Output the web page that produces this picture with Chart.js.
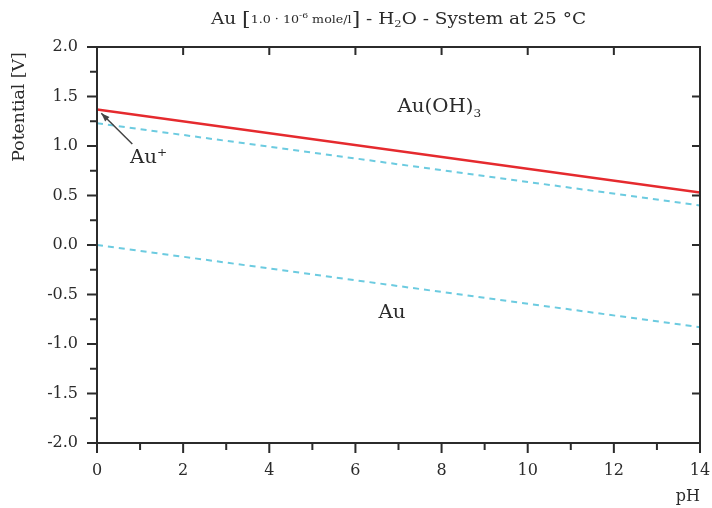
<!DOCTYPE html>
<html>
<head>
<meta charset="utf-8">
<script src="https://cdn.jsdelivr.net/npm/chart.js@4"></script>
<style>
  html, body { margin: 0; padding: 0; background: #fff; }
  #wrap { width: 712px; height: 508px; position: relative; }
</style>
</head>
<body>
<div id="wrap"><canvas id="pourbaix"></canvas></div>
<script>
const phValues = [0, 14];
const auOH3Boundary = [1.37, 0.53];   // Au+ / Au(OH)3 (ligne rouge)
const waterUpper = [1.23, 0.40];      // O2 / H2O (pointillé)
const waterLower = [0.00, -0.83];     // H2O / H2 (pointillé)
const xTicks = [0, 2, 4, 6, 8, 10, 12, 14];
const yTicks = [-2.0, -1.5, -1.0, -0.5, 0.0, 0.5, 1.0, 1.5, 2.0];

// étiquettes des domaines (coordonnées dans l'espace des données)
const regionLabels = [
  { text: 'Au(OH)', sub: '3', x: 7.95, y: 1.40 },
  { text: 'Au', sub: '', x: 6.85, y: -0.68 }
];
const auPlus = { x: 1.15, y: 0.89, tipX: 0.1, tipY: 1.33, tailX: 0.82, tailY: 1.02 };

const SERIF = '"DejaVu Serif", "Liberation Serif", serif';
const INK = '#2b2b2b';
const STRETCH = 1.1;      // la police d'origine est plus large
const TITLE_WIDTH = 375;

// texte étiré horizontalement, aligné à gauche
function wideText(ctx, str, x, y, size) {
  ctx.save();
  ctx.font = size + 'px ' + SERIF;
  ctx.translate(x, y);
  ctx.scale(STRETCH, 1);
  ctx.textAlign = 'left';
  ctx.fillText(str, 0, 0);
  const w = ctx.measureText(str).width * STRETCH;
  ctx.restore();
  return w;
}
function wideWidth(ctx, str, size) {
  ctx.font = size + 'px ' + SERIF;
  return ctx.measureText(str).width * STRETCH;
}

function toPoints(ys) {
  return phValues.map((x, i) => ({ x: x, y: ys[i] }));
}

// cadre, graduations et textes
const framePlugin = {
  id: 'frame',
  afterDraw(chart) {
    const { ctx, chartArea: a, scales: { x, y } } = chart;
    ctx.save();
    ctx.strokeStyle = INK;
    ctx.lineWidth = 2;
    ctx.strokeRect(a.left, a.top, a.right - a.left, a.bottom - a.top);

    // graduations axe x (bas : toutes, haut : paires)
    for (let v = 0; v <= 14; v++) {
      const px = x.getPixelForValue(v);
      const major = v % 2 === 0;
      ctx.beginPath();
      ctx.moveTo(px, a.bottom);
      ctx.lineTo(px, a.bottom + (major ? 10 : 7));
      if (major && v > 0 && v < 14) {
        ctx.moveTo(px, a.top);
        ctx.lineTo(px, a.top + 8);
      }
      ctx.stroke();
    }
    // graduations axe y
    for (let k = -8; k <= 8; k++) {
      const v = k * 0.25;
      const py = y.getPixelForValue(v);
      const major = k % 2 === 0;
      ctx.beginPath();
      ctx.moveTo(a.left, py);
      ctx.lineTo(a.left - (major ? 10 : 7), py);
      if (major && k > -8 && k < 8) {
        ctx.moveTo(a.right, py);
        ctx.lineTo(a.right - 8, py);
      }
      ctx.stroke();
    }

    ctx.fillStyle = INK;
    ctx.textBaseline = 'alphabetic';

    // titre du diagramme
    const parts = [
      { t: 'Au ', f: 16, dy: 0 },
      { t: '[', f: 19, dy: 1 },
      { t: '1.0 \u00b7 10', f: 11, dy: -1 },
      { t: '-6', f: 8, dy: -6 },
      { t: ' mole/l', f: 11, dy: -1 },
      { t: ']', f: 19, dy: 1 },
      { t: ' - H', f: 16, dy: 0 },
      { t: '2', f: 10, dy: 3 },
      { t: 'O - System at 25 \u00b0C', f: 16, dy: 0 }
    ];
    let total = 0;
    parts.forEach(p => { ctx.font = p.f + 'px ' + SERIF; p.w = ctx.measureText(p.t).width; total += p.w; });
    const k = TITLE_WIDTH / total;
    ctx.save();
    ctx.translate((a.left + a.right) / 2 - TITLE_WIDTH / 2, 24);
    ctx.scale(k, 1);
    let cx = 0;
    ctx.textAlign = 'left';
    parts.forEach(p => {
      ctx.font = p.f + 'px ' + SERIF;
      ctx.fillText(p.t, cx, p.dy);
      cx += p.w;
    });
    ctx.restore();

    // titre axe y
    ctx.save();
    ctx.translate(24, 107);
    ctx.rotate(-Math.PI / 2);
    ctx.textAlign = 'center';
    ctx.font = '16px ' + SERIF;
    ctx.scale(1.08, 1);
    ctx.fillText('Potential [V]', 0, 0);
    ctx.restore();

    // titre axe x
    ctx.textAlign = 'right';
    ctx.font = '16px ' + SERIF;
    ctx.fillText('pH', a.right, 501);

    // domaines
    regionLabels.forEach(r => {
      const px = x.getPixelForValue(r.x), py = y.getPixelForValue(r.y) + 6;
      const w1 = wideWidth(ctx, r.text, 18);
      const w2 = r.sub ? wideWidth(ctx, r.sub, 11) : 0;
      const left = px - (w1 + w2) / 2;
      wideText(ctx, r.text, left, py, 18);
      if (r.sub) wideText(ctx, r.sub, left + w1, py + 5, 11);
    });

    // Au+ et sa flèche
    const tx = x.getPixelForValue(auPlus.x), ty = y.getPixelForValue(auPlus.y) + 6;
    const wa = wideWidth(ctx, 'Au', 18);
    const left = tx - (wa + 6) / 2;
    wideText(ctx, 'Au', left, ty, 18);
    wideText(ctx, '+', left + wa, ty - 7, 11);

    const hx = x.getPixelForValue(auPlus.tipX), hy = y.getPixelForValue(auPlus.tipY);
    const sx = x.getPixelForValue(auPlus.tailX), sy = y.getPixelForValue(auPlus.tailY);
    ctx.strokeStyle = '#444';
    ctx.lineWidth = 1.5;
    ctx.beginPath();
    ctx.moveTo(sx, sy);
    ctx.lineTo(hx, hy);
    ctx.stroke();
    const ang = Math.atan2(hy - sy, hx - sx);
    ctx.beginPath();
    ctx.moveTo(hx, hy);
    ctx.lineTo(hx - 9 * Math.cos(ang - 0.35), hy - 9 * Math.sin(ang - 0.35));
    ctx.lineTo(hx - 9 * Math.cos(ang + 0.35), hy - 9 * Math.sin(ang + 0.35));
    ctx.closePath();
    ctx.fillStyle = '#444';
    ctx.fill();
    ctx.restore();
  }
};

const ctx = document.getElementById('pourbaix').getContext('2d');
new Chart(ctx, {
  type: 'scatter',
  data: {
    datasets: [
      {
        data: toPoints(waterUpper),
        showLine: true,
        borderColor: '#6ccbe0',
        borderWidth: 2,
        borderDash: [6, 5],
        pointRadius: 0
      },
      {
        data: toPoints(waterLower),
        showLine: true,
        borderColor: '#6ccbe0',
        borderWidth: 2,
        borderDash: [6, 5],
        pointRadius: 0
      },
      {
        data: toPoints(auOH3Boundary),
        showLine: true,
        borderColor: '#e52a2e',
        borderWidth: 2.5,
        pointRadius: 0
      }
    ]
  },
  options: {
    responsive: true,
    maintainAspectRatio: false,
    animation: false,
    layout: { padding: { left: 0, right: 12, top: 47, bottom: 0 } },
    plugins: { legend: { display: false }, tooltip: { enabled: false }, title: { display: false } },
    scales: {
      x: {
        type: 'linear',
        min: 0, max: 14,
        afterFit: s => { s.height = 65; s.paddingLeft = 0; s.paddingRight = 0; },
        afterBuildTicks: s => { s.ticks = xTicks.map(v => ({ value: v })); },
        grid: { display: false },
        border: { display: false },
        ticks: {
          color: INK,
          padding: 10,
          maxRotation: 0,
          font: { family: SERIF, size: 16 },
          callback: v => String(v)
        }
      },
      y: {
        type: 'linear',
        min: -2, max: 2,
        afterFit: s => { s.width = 97; s.paddingTop = 0; s.paddingBottom = 0; },
        afterBuildTicks: s => { s.ticks = yTicks.map(v => ({ value: v })); },
        grid: { display: false },
        border: { display: false },
        ticks: {
          color: INK,
          padding: 11,
          font: { family: SERIF, size: 16 },
          callback: v => v.toFixed(1)
        }
      }
    }
  },
  plugins: [framePlugin]
});
</script>
</body>
</html>
